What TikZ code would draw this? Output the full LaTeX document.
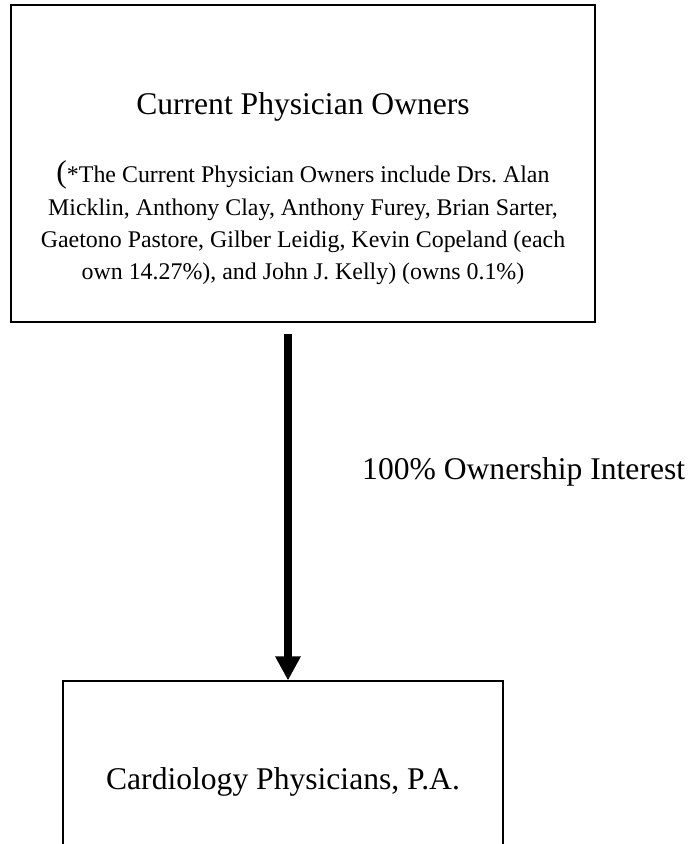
\documentclass[tikz,border=0pt]{standalone}
\usepackage{fontspec}
\setmainfont{Liberation Serif}
\usetikzlibrary{arrows.meta}
\frenchspacing
\begin{document}
\begin{tikzpicture}[x=1pt,y=-1pt,
  boxshape/.style={draw=black, line width=1.2pt, inner sep=0pt, rectangle},
  bigtext/.style={font=\fontsize{31.6}{36}\selectfont, inner sep=0pt},
  bodytext/.style={font=\fontsize{23.9}{32.4}\selectfont, inner sep=0pt},
  flow/.style={line width=8pt, -{Triangle[length=24pt,width=24pt]}}]
\useasboundingbox (0,0) rectangle (694,844);
\clip (0,0) rectangle (694,844);
% top box
\node[boxshape, minimum width=584pt, minimum height=317pt] (top) at (303,163.5) {};
\node[bigtext, anchor=base] (title) at (303,114) {Current Physician Owners};
\node[bodytext, anchor=base] (body) at (303,182.7) {\begin{tabular}[t]{@{}c@{}}%
{\fontsize{31.6}{32.4}\selectfont(}*The Current Physician Owners include Drs. Alan\\
Micklin, Anthony Clay, Anthony Furey, Brian Sarter,\\
Gaetono Pastore, Gilber Leidig, Kevin Copeland (each\\
own 14.27\%), and John J. Kelly) (owns 0.1\%)\end{tabular}};
% bottom box
\node[boxshape, minimum width=440pt, minimum height=219pt] (bot) at (283,790.5) {};
\node[bigtext, anchor=base] (bottitle) at (283,789) {Cardiology Physicians, P.A.};
% arrow
\coordinate (a1) at (288,334);
\draw[flow] (a1) -- (a1 |- bot.north);
\node[bigtext, anchor=base west] (lbl) at (362,479) {100\% Ownership Interest};
\end{tikzpicture}
\end{document}
